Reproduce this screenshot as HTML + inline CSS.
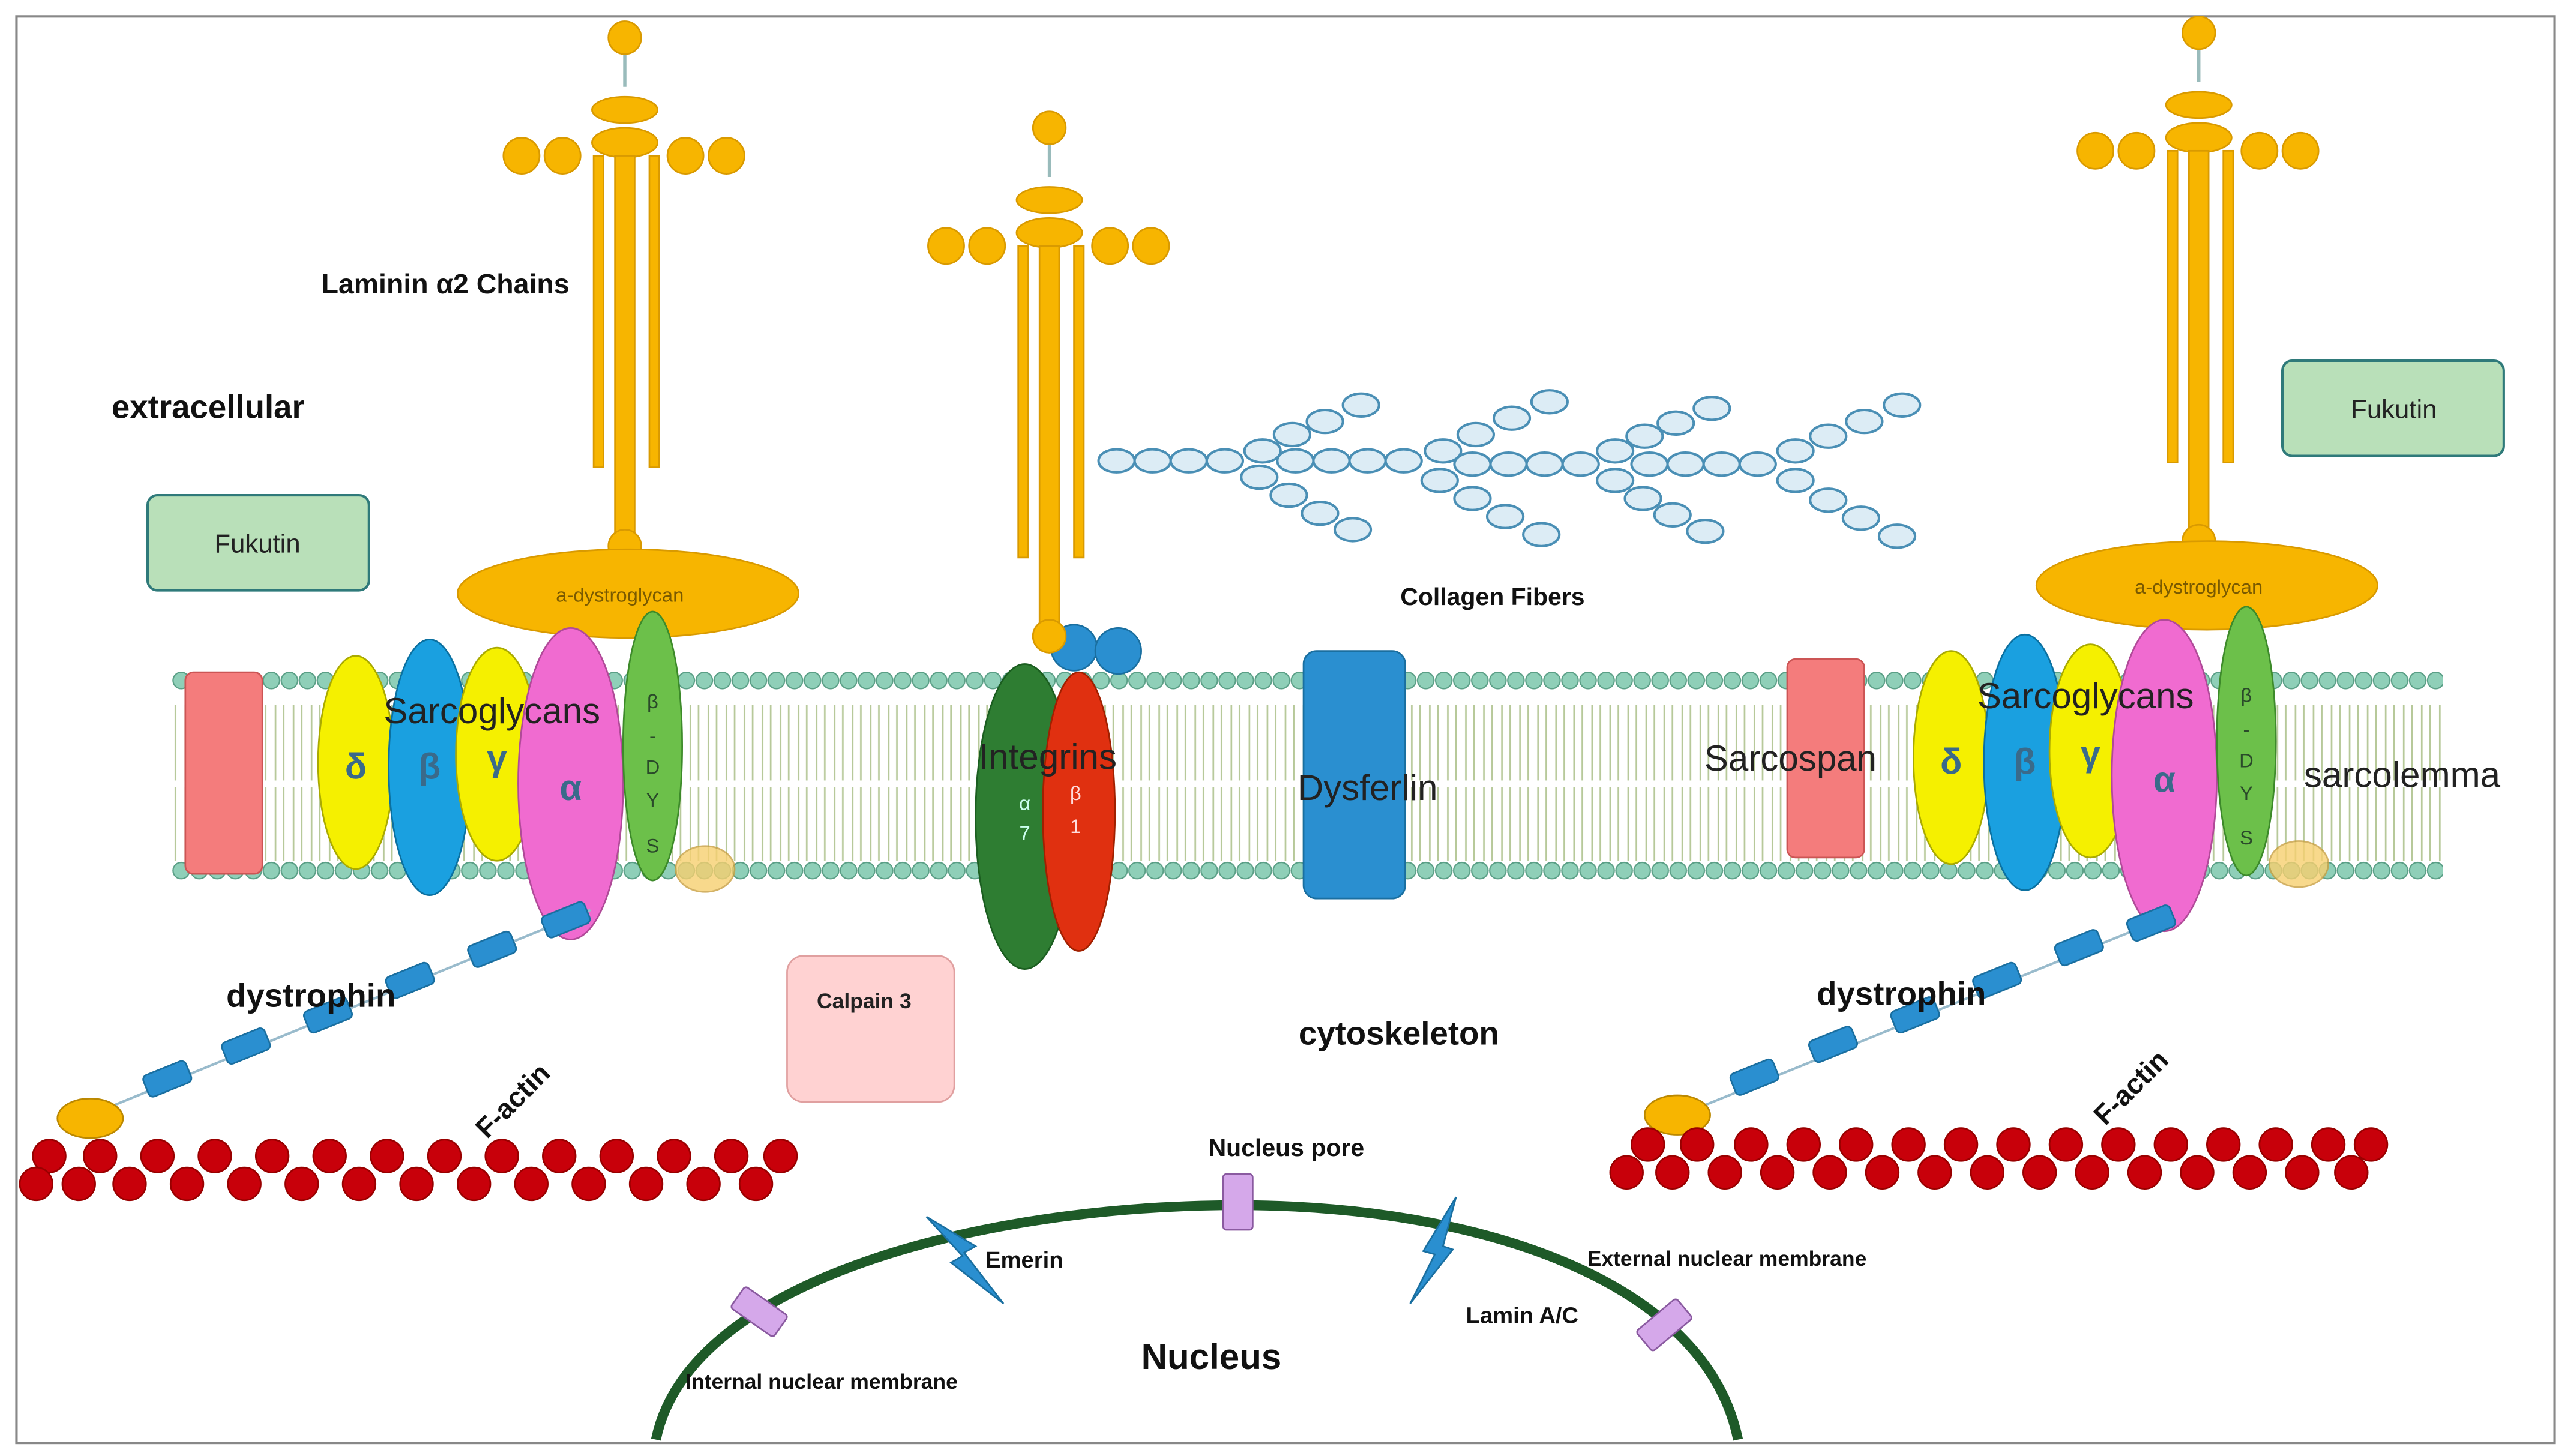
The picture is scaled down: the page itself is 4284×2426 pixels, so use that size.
<!DOCTYPE html>
<html><head><meta charset="utf-8"><style>
html,body{margin:0;padding:0;background:#fff;}
svg{display:block;}
text{font-family:"Liberation Sans",sans-serif;}
</style></head><body>
<svg width="4284" height="2426" viewBox="0 0 1568 888" xmlns="http://www.w3.org/2000/svg">
<defs>
<pattern id="tails" x="0" y="0" width="11" height="120" patternUnits="userSpaceOnUse">
<line x1="3" y1="0" x2="3" y2="45" stroke="#b7c99a" stroke-width="1"/>
<line x1="8" y1="0" x2="8" y2="45" stroke="#b7c99a" stroke-width="1"/>
<line x1="3" y1="70" x2="3" y2="116" stroke="#b7c99a" stroke-width="1"/>
<line x1="8" y1="70" x2="8" y2="116" stroke="#b7c99a" stroke-width="1"/>
</pattern>
<pattern id="beads" x="105" y="0" width="11" height="888" patternUnits="userSpaceOnUse">
<circle cx="5.5" cy="415" r="5" fill="#8fcfb8" stroke="#5a9f86" stroke-width="0.8"/>
<circle cx="5.5" cy="531" r="5" fill="#8fcfb8" stroke="#5a9f86" stroke-width="0.8"/>
</pattern>
<g id="lam">
<line x1="0" y1="-310" x2="0" y2="-280" stroke="#9bb" stroke-width="2"/>
<circle cx="0" cy="-310" r="10" fill="#f7b500" stroke="#d99a00"/>
<ellipse cx="0" cy="-266" rx="20" ry="8" fill="#f7b500" stroke="#d99a00"/>
<ellipse cx="0" cy="-246" rx="20" ry="9" fill="#f7b500" stroke="#d99a00"/>
<circle cx="-63" cy="-238" r="11" fill="#f7b500" stroke="#d99a00"/>
<circle cx="-38" cy="-238" r="11" fill="#f7b500" stroke="#d99a00"/>
<circle cx="37" cy="-238" r="11" fill="#f7b500" stroke="#d99a00"/>
<circle cx="62" cy="-238" r="11" fill="#f7b500" stroke="#d99a00"/>
<rect x="-6" y="-238" width="12" height="238" fill="#f7b500" stroke="#d99a00"/>
<rect x="-19" y="-238" width="6" height="190" fill="#f7b500" stroke="#d99a00"/>
<rect x="15" y="-238" width="6" height="190" fill="#f7b500" stroke="#d99a00"/>
<circle cx="0" cy="0" r="10" fill="#f7b500" stroke="#d99a00"/>
</g>
<g id="act">
<circle cx="0" cy="0" r="10" fill="#c8000a" stroke="#900"/>
</g>
</defs>
<rect x="0" y="0" width="1568" height="888" fill="#fff"/>
<rect x="10" y="10" width="1548" height="870" fill="none" stroke="#888" stroke-width="1.5"/>

<!-- membrane -->
<rect x="105" y="420" width="1385" height="106" fill="url(#tails)"/>
<rect x="105" y="405" width="1385" height="135" fill="url(#beads)"/>

<!-- collagen -->
<g fill="#dcecf5" stroke="#4a8fb5" stroke-width="1.5">
<ellipse cx="681" cy="281" rx="11" ry="7"/><ellipse cx="703" cy="281" rx="11" ry="7"/><ellipse cx="725" cy="281" rx="11" ry="7"/><ellipse cx="747" cy="281" rx="11" ry="7"/>
<ellipse cx="790" cy="281" rx="11" ry="7"/><ellipse cx="812" cy="281" rx="11" ry="7"/><ellipse cx="834" cy="281" rx="11" ry="7"/><ellipse cx="856" cy="281" rx="11" ry="7"/>
<ellipse cx="898" cy="283" rx="11" ry="7"/><ellipse cx="920" cy="283" rx="11" ry="7"/><ellipse cx="942" cy="283" rx="11" ry="7"/><ellipse cx="964" cy="283" rx="11" ry="7"/>
<ellipse cx="1006" cy="283" rx="11" ry="7"/><ellipse cx="1028" cy="283" rx="11" ry="7"/><ellipse cx="1050" cy="283" rx="11" ry="7"/><ellipse cx="1072" cy="283" rx="11" ry="7"/>
<ellipse cx="770" cy="275" rx="11" ry="7"/><ellipse cx="788" cy="265" rx="11" ry="7"/><ellipse cx="808" cy="257" rx="11" ry="7"/><ellipse cx="830" cy="247" rx="11" ry="7"/>
<ellipse cx="768" cy="291" rx="11" ry="7"/><ellipse cx="786" cy="302" rx="11" ry="7"/><ellipse cx="805" cy="313" rx="11" ry="7"/><ellipse cx="825" cy="323" rx="11" ry="7"/>
<ellipse cx="880" cy="275" rx="11" ry="7"/><ellipse cx="900" cy="265" rx="11" ry="7"/><ellipse cx="922" cy="255" rx="11" ry="7"/><ellipse cx="945" cy="245" rx="11" ry="7"/>
<ellipse cx="878" cy="293" rx="11" ry="7"/><ellipse cx="898" cy="304" rx="11" ry="7"/><ellipse cx="918" cy="315" rx="11" ry="7"/><ellipse cx="940" cy="326" rx="11" ry="7"/>
<ellipse cx="985" cy="275" rx="11" ry="7"/><ellipse cx="1003" cy="266" rx="11" ry="7"/><ellipse cx="1022" cy="258" rx="11" ry="7"/><ellipse cx="1044" cy="249" rx="11" ry="7"/>
<ellipse cx="985" cy="293" rx="11" ry="7"/><ellipse cx="1002" cy="304" rx="11" ry="7"/><ellipse cx="1020" cy="314" rx="11" ry="7"/><ellipse cx="1040" cy="324" rx="11" ry="7"/>
<ellipse cx="1095" cy="275" rx="11" ry="7"/><ellipse cx="1115" cy="266" rx="11" ry="7"/><ellipse cx="1137" cy="257" rx="11" ry="7"/><ellipse cx="1160" cy="247" rx="11" ry="7"/>
<ellipse cx="1095" cy="293" rx="11" ry="7"/><ellipse cx="1115" cy="305" rx="11" ry="7"/><ellipse cx="1135" cy="316" rx="11" ry="7"/><ellipse cx="1157" cy="327" rx="11" ry="7"/>
</g>

<!-- laminins -->
<use href="#lam" x="381" y="333"/>
<use href="#lam" x="640" y="388"/>
<use href="#lam" x="1341" y="330"/>
<circle cx="655" cy="395" r="14" fill="#2a8fd0" stroke="#1a6fa0"/>
<circle cx="682" cy="397" r="14" fill="#2a8fd0" stroke="#1a6fa0"/>
<circle cx="640" cy="388" r="10" fill="#f7b500" stroke="#d99a00"/>

<ellipse cx="383" cy="362" rx="104" ry="27" fill="#f7b500" stroke="#d99a00"/>
<text x="378" y="367" font-size="12" fill="#7a5a00" text-anchor="middle">a-dystroglycan</text>
<ellipse cx="1346" cy="357" rx="104" ry="27" fill="#f7b500" stroke="#d99a00"/>
<text x="1341" y="362" font-size="12" fill="#7a5a00" text-anchor="middle">a-dystroglycan</text>

<!-- left complex -->
<rect x="113" y="410" width="47" height="123" rx="5" fill="#f47c7c" stroke="#c55"/>
<ellipse cx="217" cy="465" rx="23" ry="65" fill="#f5f000" stroke="#aa0"/>
<ellipse cx="262" cy="468" rx="25" ry="78" fill="#1aa0e0" stroke="#0b70a0"/>
<ellipse cx="303" cy="460" rx="25" ry="65" fill="#f5f000" stroke="#aa0"/>
<ellipse cx="348" cy="478" rx="32" ry="95" fill="#f06bd0" stroke="#b04a98"/>
<ellipse cx="398" cy="455" rx="18" ry="82" fill="#6cc04a" stroke="#3d8a2a"/>
<ellipse cx="430" cy="530" rx="18" ry="14" fill="#f7d070" stroke="#c9a040" opacity="0.8"/>
<g font-size="22" font-weight="bold" fill="#3a6a8a" text-anchor="middle">
<text x="217" y="475">δ</text><text x="262" y="475">β</text><text x="303" y="470">γ</text><text x="348" y="488">α</text></g>
<g font-size="12" fill="#2a4a2a" text-anchor="middle"><text x="398" y="432">β</text><text x="398" y="453">-</text><text x="398" y="472">D</text><text x="398" y="492">Y</text><text x="398" y="520">S</text></g>
<text x="300" y="441" font-size="22" fill="#222" text-anchor="middle">Sarcoglycans</text>

<!-- right complex -->
<rect x="1090" y="402" width="47" height="121" rx="5" fill="#f47c7c" stroke="#c55"/>
<ellipse cx="1190" cy="462" rx="23" ry="65" fill="#f5f000" stroke="#aa0"/>
<ellipse cx="1235" cy="465" rx="25" ry="78" fill="#1aa0e0" stroke="#0b70a0"/>
<ellipse cx="1275" cy="458" rx="25" ry="65" fill="#f5f000" stroke="#aa0"/>
<ellipse cx="1320" cy="473" rx="32" ry="95" fill="#f06bd0" stroke="#b04a98"/>
<ellipse cx="1370" cy="452" rx="18" ry="82" fill="#6cc04a" stroke="#3d8a2a"/>
<ellipse cx="1402" cy="527" rx="18" ry="14" fill="#f7d070" stroke="#c9a040" opacity="0.8"/>
<g font-size="22" font-weight="bold" fill="#3a6a8a" text-anchor="middle">
<text x="1190" y="472">δ</text><text x="1235" y="472">β</text><text x="1275" y="467">γ</text><text x="1320" y="483">α</text></g>
<g font-size="12" fill="#2a4a2a" text-anchor="middle"><text x="1370" y="428">β</text><text x="1370" y="449">-</text><text x="1370" y="468">D</text><text x="1370" y="488">Y</text><text x="1370" y="515">S</text></g>
<text x="1272" y="432" font-size="22" fill="#222" text-anchor="middle">Sarcoglycans</text>
<text x="1092" y="470" font-size="22" fill="#222" text-anchor="middle">Sarcospan</text>
<text x="1465" y="480" font-size="22" fill="#222" text-anchor="middle">sarcolemma</text>

<!-- integrins -->
<ellipse cx="625" cy="498" rx="30" ry="93" fill="#2e7d32" stroke="#1b5e20"/>
<ellipse cx="658" cy="495" rx="22" ry="85" fill="#e03010" stroke="#a02000"/>
<text x="625" y="494" font-size="12" fill="#cfe" text-anchor="middle">α</text>
<text x="625" y="512" font-size="12" fill="#cfe" text-anchor="middle">7</text>
<text x="656" y="488" font-size="12" fill="#fdd" text-anchor="middle">β</text>
<text x="656" y="508" font-size="12" fill="#fdd" text-anchor="middle">1</text>
<text x="639" y="469" font-size="22" fill="#222" text-anchor="middle">Integrins</text>

<!-- dysferlin -->
<rect x="795" y="397" width="62" height="151" rx="8" fill="#2a8fd0" stroke="#1a6fa0"/>
<text x="834" y="488" font-size="22" fill="#222" text-anchor="middle">Dysferlin</text>

<!-- dystrophin -->
<line x1="360" y1="555" x2="55" y2="680" stroke="#9bc" stroke-width="1.5"/>
<g fill="#2a8fd0" stroke="#1a6fa0">
<rect x="-14" y="-7" width="28" height="14" rx="3" transform="translate(345,561) rotate(-22)"/>
<rect x="-14" y="-7" width="28" height="14" rx="3" transform="translate(300,579) rotate(-22)"/>
<rect x="-14" y="-7" width="28" height="14" rx="3" transform="translate(250,598) rotate(-22)"/>
<rect x="-14" y="-7" width="28" height="14" rx="3" transform="translate(200,619) rotate(-22)"/>
<rect x="-14" y="-7" width="28" height="14" rx="3" transform="translate(150,638) rotate(-22)"/>
<rect x="-14" y="-7" width="28" height="14" rx="3" transform="translate(102,658) rotate(-22)"/>
</g>
<line x1="1320" y1="560" x2="1025" y2="680" stroke="#9bc" stroke-width="1.5"/>
<g fill="#2a8fd0" stroke="#1a6fa0">
<rect x="-14" y="-7" width="28" height="14" rx="3" transform="translate(1312,563) rotate(-22)"/>
<rect x="-14" y="-7" width="28" height="14" rx="3" transform="translate(1268,578) rotate(-22)"/>
<rect x="-14" y="-7" width="28" height="14" rx="3" transform="translate(1218,598) rotate(-22)"/>
<rect x="-14" y="-7" width="28" height="14" rx="3" transform="translate(1168,619) rotate(-22)"/>
<rect x="-14" y="-7" width="28" height="14" rx="3" transform="translate(1118,637) rotate(-22)"/>
<rect x="-14" y="-7" width="28" height="14" rx="3" transform="translate(1070,657) rotate(-22)"/>
</g>
<ellipse cx="55" cy="682" rx="20" ry="12" fill="#f7b500" stroke="#b80"/>
<ellipse cx="1023" cy="680" rx="20" ry="12" fill="#f7b500" stroke="#b80"/>

<!-- F-actin -->
<g>
<use href="#act" x="30" y="705"/><use href="#act" x="61" y="705"/><use href="#act" x="96" y="705"/><use href="#act" x="131" y="705"/><use href="#act" x="166" y="705"/><use href="#act" x="201" y="705"/><use href="#act" x="236" y="705"/><use href="#act" x="271" y="705"/><use href="#act" x="306" y="705"/><use href="#act" x="341" y="705"/><use href="#act" x="376" y="705"/><use href="#act" x="411" y="705"/><use href="#act" x="446" y="705"/><use href="#act" x="476" y="705"/>
<use href="#act" x="22" y="722"/><use href="#act" x="48" y="722"/><use href="#act" x="79" y="722"/><use href="#act" x="114" y="722"/><use href="#act" x="149" y="722"/><use href="#act" x="184" y="722"/><use href="#act" x="219" y="722"/><use href="#act" x="254" y="722"/><use href="#act" x="289" y="722"/><use href="#act" x="324" y="722"/><use href="#act" x="359" y="722"/><use href="#act" x="394" y="722"/><use href="#act" x="429" y="722"/><use href="#act" x="461" y="722"/>
<use href="#act" x="1005" y="698"/><use href="#act" x="1035" y="698"/><use href="#act" x="1068" y="698"/><use href="#act" x="1100" y="698"/><use href="#act" x="1132" y="698"/><use href="#act" x="1164" y="698"/><use href="#act" x="1196" y="698"/><use href="#act" x="1228" y="698"/><use href="#act" x="1260" y="698"/><use href="#act" x="1292" y="698"/><use href="#act" x="1324" y="698"/><use href="#act" x="1356" y="698"/><use href="#act" x="1388" y="698"/><use href="#act" x="1420" y="698"/><use href="#act" x="1446" y="698"/>
<use href="#act" x="992" y="715"/><use href="#act" x="1020" y="715"/><use href="#act" x="1052" y="715"/><use href="#act" x="1084" y="715"/><use href="#act" x="1116" y="715"/><use href="#act" x="1148" y="715"/><use href="#act" x="1180" y="715"/><use href="#act" x="1212" y="715"/><use href="#act" x="1244" y="715"/><use href="#act" x="1276" y="715"/><use href="#act" x="1308" y="715"/><use href="#act" x="1340" y="715"/><use href="#act" x="1372" y="715"/><use href="#act" x="1404" y="715"/><use href="#act" x="1434" y="715"/>
</g>

<!-- boxes -->
<rect x="90" y="302" width="135" height="58" rx="6" fill="#b9e0b9" stroke="#2f7a7a" stroke-width="1.5"/>
<text x="157" y="337" font-size="16" fill="#222" text-anchor="middle">Fukutin</text>
<rect x="1392" y="220" width="135" height="58" rx="6" fill="#b9e0b9" stroke="#2f7a7a" stroke-width="1.5"/>
<text x="1460" y="255" font-size="16" fill="#222" text-anchor="middle">Fukutin</text>
<rect x="480" y="583" width="102" height="89" rx="10" fill="#ffd2d2" stroke="#e0a0a0"/>
<text x="527" y="615" font-size="13" font-weight="bold" fill="#222" text-anchor="middle">Calpain 3</text>

<!-- nucleus -->
<path d="M400,878 C420,780 600,735 755,735 C900,735 1040,780 1060,878" fill="none" stroke="#1e5a28" stroke-width="6"/>
<rect x="746" y="716" width="18" height="34" rx="2" fill="#d5a8ea" stroke="#8a5aa0"/>
<rect x="-8" y="-16" width="16" height="32" rx="2" fill="#d5a8ea" stroke="#8a5aa0" transform="translate(463,800) rotate(-55)"/>
<rect x="-8" y="-16" width="16" height="32" rx="2" fill="#d5a8ea" stroke="#8a5aa0" transform="translate(1015,808) rotate(50)"/>
<polygon points="565,742 595,760 588,764 612,795 580,770 587,766" fill="#2a8fd0" stroke="#1a6fa0"/>
<polygon points="888,730 880,760 886,762 860,795 875,765 868,763" fill="#2a8fd0" stroke="#1a6fa0"/>

<!-- labels -->
<g fill="#111" font-weight="bold">
<text x="196" y="179" font-size="17">Laminin α2 Chains</text>
<text x="68" y="255" font-size="20">extracellular</text>
<text x="854" y="369" font-size="15">Collagen Fibers</text>
<text x="138" y="614" font-size="20">dystrophin</text>
<text x="1108" y="613" font-size="20">dystrophin</text>
<text x="792" y="637" font-size="20">cytoskeleton</text>
<text x="737" y="705" font-size="15">Nucleus pore</text>
<text x="601" y="773" font-size="14">Emerin</text>
<text x="968" y="772" font-size="13">External nuclear membrane</text>
<text x="894" y="807" font-size="14">Lamin A/C</text>
<text x="696" y="835" font-size="22">Nucleus</text>
<text x="418" y="847" font-size="13">Internal nuclear membrane</text>
<text x="0" y="0" font-size="17" transform="translate(297,695) rotate(-45)">F-actin</text>
<text x="0" y="0" font-size="17" transform="translate(1284,687) rotate(-45)">F-actin</text>
</g>
</svg>
</body></html>
